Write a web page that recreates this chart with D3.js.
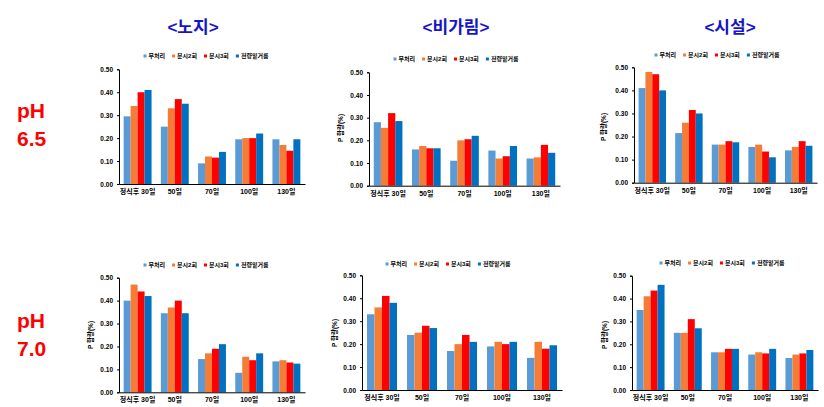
<!DOCTYPE html>
<html><head><meta charset="utf-8">
<script src="https://cdn.jsdelivr.net/npm/d3@7"></script>
<style>
body{margin:0;background:#fff;}
svg{display:block;}
text{font-family:"Liberation Sans","Noto Sans CJK KR",Arial,sans-serif;}
</style></head>
<body>
<script>
// ---- data ----
const categories = ["정식후 30일","50일","70일","100일","130일"];
const seriesNames = ["무처리","분시2회","분시3회","전량밑거름"];
const seriesColors = ["#5b9bd5","#f47c37","#ff0000","#0070c0"];
const yTicks = [0,0.1,0.2,0.3,0.4,0.5];
const colTitles = ["<노지>","<비가림>","<시설>"];
const rowLabels = [["pH","6.5"],["pH","7.0"]];
const yAxisLabel = "P 함량(%)";

// values[category][series]
const nojiPH65   = [[0.295,0.34,0.40,0.41],[0.25,0.33,0.37,0.35],[0.09,0.12,0.115,0.14],[0.195,0.20,0.20,0.22],[0.195,0.17,0.145,0.195]];
const bigarimPH65= [[0.28,0.255,0.32,0.285],[0.16,0.175,0.165,0.165],[0.11,0.20,0.205,0.22],[0.155,0.12,0.13,0.175],[0.12,0.125,0.18,0.145]];
const siseolPH65 = [[0.41,0.48,0.47,0.40],[0.215,0.26,0.315,0.30],[0.165,0.165,0.18,0.175],[0.155,0.165,0.135,0.11],[0.14,0.155,0.18,0.16]];
const nojiPH70   = [[0.40,0.47,0.44,0.42],[0.345,0.37,0.40,0.345],[0.145,0.17,0.19,0.21],[0.085,0.155,0.14,0.17],[0.135,0.14,0.13,0.125]];
const bigarimPH70= [[0.33,0.36,0.41,0.38],[0.24,0.25,0.28,0.27],[0.17,0.20,0.24,0.21],[0.19,0.21,0.20,0.21],[0.14,0.21,0.18,0.195]];
const siseolPH70 = [[0.35,0.41,0.435,0.46],[0.25,0.25,0.31,0.27],[0.165,0.165,0.18,0.18],[0.155,0.165,0.16,0.18],[0.14,0.155,0.16,0.175]];

const W=824,H=407;
const svg=d3.select("body").append("svg").attr("width",W).attr("height",H);

// panel layout
const panels=[
 {data:nojiPH65,   x0:119,x1:305,yT:69.3, yB:184,  ly:56, lcx:206, yl:null},
 {data:bigarimPH65,x0:369,x1:560,yT:72.3, yB:185.7,ly:59, lcx:456, yl:[341,128]},
 {data:siseolPH65, x0:634,x1:817,yT:67.3, yB:182.7,ly:55, lcx:717, yl:[604,127]},
 {data:nojiPH70,   x0:119,x1:305,yT:277.7,yB:392.3,ly:265,lcx:206, yl:[91,335]},
 {data:bigarimPH70,x0:362,x1:562,yT:275.3,yB:390,  ly:264,lcx:448, yl:[335,333]},
 {data:siseolPH70, x0:632,x1:818,yT:275.7,yB:390,  ly:263,lcx:722, yl:[605,335]}
];

panels.forEach(p=>{
  const g=svg.append("g");
  const x=d3.scaleBand().domain(categories).range([p.x0,p.x1]).paddingInner(0.25).paddingOuter(0.125);
  const xs=d3.scaleBand().domain(seriesNames).range([0,x.bandwidth()]);
  const y=d3.scaleLinear().domain([0,0.5]).range([p.yB,p.yT]);

  // bars
  categories.forEach((c,ci)=>{
    seriesNames.forEach((s,si)=>{
      const v=p.data[ci][si];
      g.append("rect").attr("x",x(c)+xs(s)).attr("y",y(v))
       .attr("width",xs.bandwidth()).attr("height",y(0)-y(v))
       .attr("fill",seriesColors[si]);
    });
  });

  // y axis
  const ya=g.append("g").attr("transform",`translate(${p.x0},0)`)
    .call(d3.axisLeft(y).tickValues(yTicks).tickFormat(d3.format(".2f")).tickSize(2).tickPadding(4));
  ya.select(".domain").attr("stroke","#000");
  ya.selectAll("text").attr("font-size",6.5).attr("font-weight","bold").attr("fill","#000");
  // x axis
  const xa=g.append("g").attr("transform",`translate(0,${p.yB})`)
    .call(d3.axisBottom(x).tickSize(0).tickPadding(5));
  xa.select(".domain").attr("stroke","#000");
  xa.selectAll("text").attr("font-size",7).attr("font-weight","bold").attr("fill","#000");

  // y label
  if(p.yl){
    g.append("text").attr("transform",`translate(${p.yl[0]},${p.yl[1]}) rotate(-90)`)
     .attr("text-anchor","middle").attr("dominant-baseline","middle")
     .attr("font-size",6.5).attr("font-weight","bold").text(yAxisLabel);
  }

  // legend
  const lg=g.append("g");
  let cx=0;
  const items=[];
  seriesNames.forEach((s,i)=>{
    const it=lg.append("g");
    it.append("rect").attr("x",0).attr("y",-1.5).attr("width",3).attr("height",3).attr("fill",seriesColors[i]);
    const t=it.append("text").attr("x",5).attr("y",0).attr("dominant-baseline","middle")
      .attr("font-size",6).attr("font-weight","bold").text(s);
    const w=5+t.node().getComputedTextLength();
    it.attr("transform",`translate(${cx},0)`);
    cx+=w+7;
  });
  const total=cx-7;
  lg.attr("transform",`translate(${p.lcx-total/2},${p.ly})`);
});

// column titles
const titleX=[193,456,730];
colTitles.forEach((t,i)=>{
  svg.append("text").attr("x",titleX[i]).attr("y",33).attr("text-anchor","middle")
    .attr("font-size",17).attr("font-weight","bold").attr("fill","#1515c8")
    .attr("font-family","'Noto Sans CJK KR',sans-serif").text(t);
});
// row labels
const rowY=[118,328];
rowLabels.forEach((r,i)=>{
  r.forEach((s,j)=>{
    svg.append("text").attr("x",17).attr("y",rowY[i]+j*28)
      .attr("font-size",21).attr("font-weight","bold").attr("fill","#ff0000").text(s);
  });
});
</script>
</body></html>
